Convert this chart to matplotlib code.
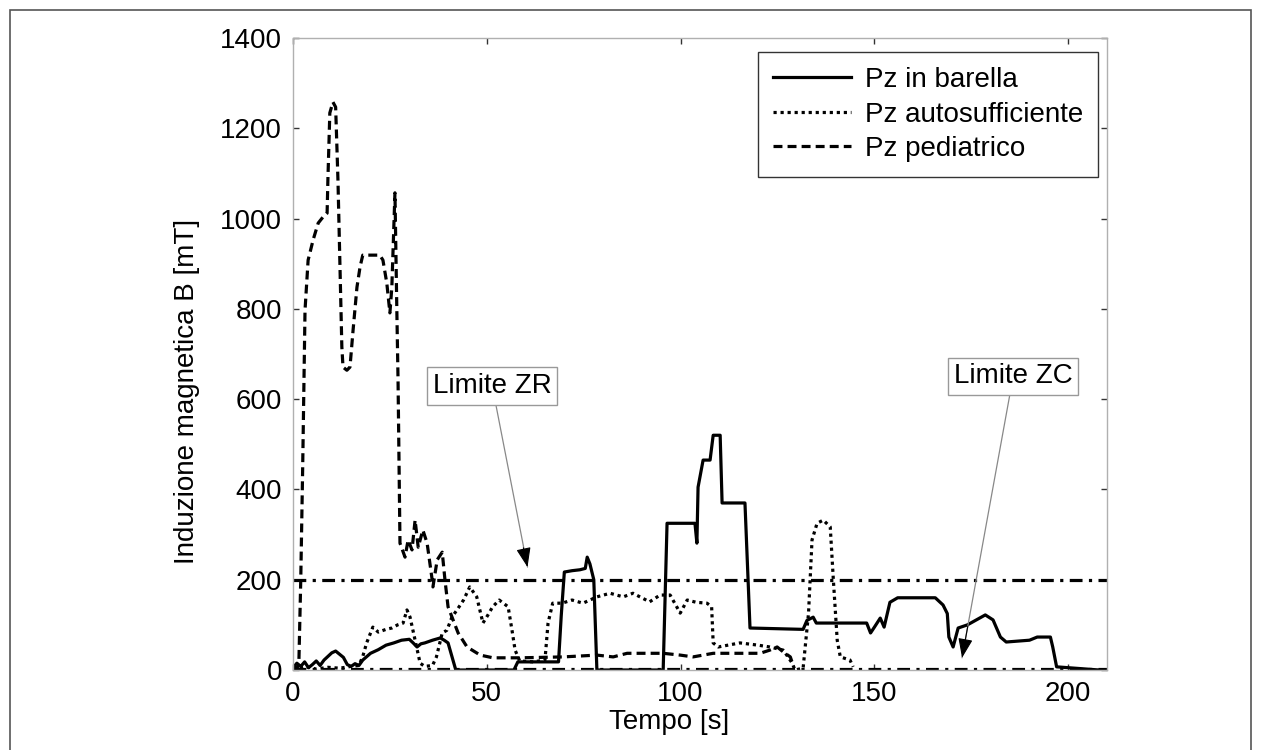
import matplotlib
matplotlib.use('Agg')
import matplotlib.pyplot as plt
from matplotlib.patches import Rectangle

plt.rcParams['font.family'] = ['Liberation Sans', 'DejaVu Sans']

# --- data ---
barella_t = [0, 1, 2, 3, 4, 5, 6, 7, 8, 9, 10, 11, 12, 13, 14, 15, 16, 17, 18,
             20, 22, 24, 26, 28, 30, 31, 32, 33, 34, 36, 38, 39, 40, 41, 42, 57, 58,
             68.5, 69.2, 70, 72, 74, 75.4, 75.9, 76.6, 77.6, 78.4, 95.5, 96.5,
             103.7, 104.2, 104.5, 105.8, 107.6, 108.4, 110.2, 110.7, 116.6, 117.4, 117.9,
             131.6, 132.6, 134.2, 135, 140, 148, 149, 150, 151.5, 152.5, 154, 156,
             165.7, 167.7, 168.8, 169.2, 170.3, 171.6, 174, 178.6, 180.6, 182.5, 184,
             190, 192, 195.4, 196, 197, 208]
barella_b = [5, 15, 8, 18, 5, 12, 20, 10, 22, 30, 38, 42, 35, 28, 12, 8, 14, 10, 22,
             37, 45, 55, 60, 66, 68, 60, 51, 58, 60, 66, 71, 66, 60, 30, 0, 0, 18,
             18, 120, 217, 220, 222, 225, 250, 235, 200, 0, 0, 325,
             325, 281, 405, 465, 465, 520, 520, 370, 370, 200, 93,
             90, 110, 117, 104, 104, 104, 82, 95, 115, 95, 150, 160,
             160, 144, 125, 73, 51, 93, 100, 122, 111, 73, 62,
             66, 73, 73, 51, 7, 0]

auto_t = [0, 3, 6, 9, 12, 15, 17, 18, 19, 20.6, 22, 24, 25.5, 27, 28.4, 29.4, 30.2,
          31.5, 32.8, 34, 36, 37, 38.5, 39.7, 41, 42.3, 44, 45.6, 47.4, 49, 50.3, 51.5,
          53.2, 55.5, 56.5, 57.3, 58.5, 62, 65, 65.8, 67, 69.4, 72, 74.8, 78.4, 81.8,
          85.2, 87.7, 92, 94.7, 97.3, 99.9, 101.7, 104, 106.8, 108, 108.4, 109.7, 115.3,
          120, 123, 126.5, 128.8, 129.5, 131.6, 133, 133.9, 135.2, 136.8, 138.6, 139.4,
          140.4, 141.2, 143.7, 144.5]
auto_b = [3, 8, 2, 6, 4, 8, 10, 30, 60, 95, 84, 90, 93, 100, 104, 133, 117,
          66, 15, 8, 10, 29, 82, 88, 117, 133, 155, 184, 162, 104, 122, 140,
          155, 140, 88, 44, 20, 18, 22, 104, 148, 148, 155, 148, 162, 170,
          162, 170, 151, 166, 166, 126, 155, 150, 148, 140, 60, 51, 60,
          55, 51, 44, 15, 0, 4, 126, 288, 325, 332, 317, 200,
          66, 29, 22, 7]

ped_t = [0, 1, 1.5, 2.0, 2.5, 3.1, 3.9, 5.2, 6.5, 7.7, 8.8, 9, 9.5, 10.3, 11, 11.6,
         12.6, 12.9, 13.9, 14.7, 15.5, 16.5, 17.3, 18, 22.4, 23.2, 24.2, 25, 25.5, 26.3,
         26.8, 27.1, 27.6, 28.9, 29.7, 30.7, 31.5, 32.3, 33.5, 34.6, 35.9, 36.1, 37.2,
         38.5, 39.2, 40, 41.3, 42.6, 44.9, 48.3, 51.6, 58.6, 69.7, 78.4, 82.6, 86.2,
         95.5, 99.9, 103.2, 108.4, 120.5, 123, 124.9, 126.5, 128.3, 129]
ped_b = [10, 5, 10, 200, 450, 797, 908, 953, 990, 1003, 1012, 1085, 1234, 1258, 1247, 1085,
         716, 671, 664, 671, 753, 848, 893, 919, 919, 908, 857, 791, 848, 1057,
         791, 642, 281, 250, 288, 266, 332, 272, 310, 281, 200, 184, 244,
         261, 200, 140, 111, 82, 51, 33, 27, 27, 29, 33, 29, 37,
         37, 33, 29, 37, 37, 44, 51, 40, 29, 11]

limit_t = [0, 210]
zr_level = 200
zc_level = 2

x_ticks = [0, 50, 100, 150, 200]
y_ticks = [0, 200, 400, 600, 800, 1000, 1200, 1400]

fig = plt.figure(figsize=(12.61, 7.5), dpi=100)
ax = fig.add_axes([293 / 1261, 80 / 750, 814 / 1261, 632 / 750])

# outer frame of the picture
fig.add_artist(Rectangle((10 / 1261, -0.01), 1241 / 1261, 0.9967, transform=fig.transFigure,
                         fill=False, edgecolor='#555555', linewidth=1.2, clip_on=False))

lw = 2.3
ax.plot(barella_t, barella_b, color='black', lw=lw, linestyle='-', label='Pz in barella')
ax.plot(auto_t, auto_b, color='black', lw=lw, linestyle=(0, (1, 1.2)), label='Pz autosufficiente')
ax.plot(ped_t, ped_b, color='black', lw=lw, linestyle=(0, (2.8, 1.6)), label='Pz pediatrico')

ax.plot(limit_t, [zr_level, zr_level], color='black', lw=lw, linestyle=(0, (4, 2, 1, 2)))
ax.plot(limit_t, [zc_level, zc_level], color='black', lw=lw, linestyle=(0, (4, 2, 1, 2)))

ax.set_xlim(0, 210)
ax.set_ylim(0, 1400)
ax.set_xticks(x_ticks)
ax.set_yticks(y_ticks)
ax.tick_params(direction='in', length=4, width=1, color='#333333', labelsize=20,
               top=True, right=True, pad=8)
for sp in ax.spines.values():
    sp.set_color('#b0b0b0')
    sp.set_linewidth(1)

ax.set_xlabel('Tempo [s]', fontsize=20)
ax.xaxis.set_label_coords((669 - 293) / 814, -0.062)
ax.set_ylabel('Induzione magnetica B [mT]', fontsize=20)
ax.yaxis.set_label_coords((200 - 293) / 814, 0.44)

# annotations: grey leader line + black arrow head
box = dict(boxstyle='square,pad=0.2', facecolor='white', edgecolor='#999999', linewidth=1)
for label, tip, txt, base in [('Limite ZR', (60.5, 228), (51.4, 629), (51.6, 583)),
                               ('Limite ZC', (172.6, 27), (185.8, 651), (185, 609))]:
    ax.annotate(label, xy=tip, xytext=txt, ha='center', va='center', fontsize=20,
                bbox=box, arrowprops=dict(arrowstyle='-', color='#888888', lw=0.9,
                                          shrinkA=0, shrinkB=0), zorder=5)
    back = (tip[0] + (base[0] - tip[0]) * 0.12, tip[1] + (base[1] - tip[1]) * 0.12)
    ax.annotate('', xy=tip, xytext=back,
                arrowprops=dict(arrowstyle='-|>,head_length=1.2,head_width=0.45',
                                color='black', lw=0.8, shrinkA=0, shrinkB=0), zorder=6)

leg = ax.legend(loc='upper right', bbox_to_anchor=(0.989, 0.978), fontsize=20,
                frameon=True, fancybox=False, edgecolor='#333333', framealpha=1,
                borderaxespad=0, borderpad=0.55, handlelength=2.8, handletextpad=0.5,
                labelspacing=0.3)
leg.get_frame().set_linewidth(1)

fig.savefig('out.png', dpi=100, facecolor='white')
